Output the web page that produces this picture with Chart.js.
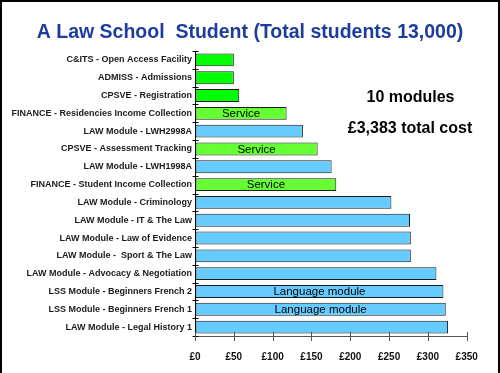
<!DOCTYPE html>
<html>
<head>
<meta charset="utf-8">
<script src="https://cdn.jsdelivr.net/npm/chart.js@4/dist/chart.umd.min.js"></script>
<style>
  html, body { margin: 0; padding: 0; background: #fff; }
  #wrap {
    position: absolute; left: 0; top: 0; width: 500px; height: 373px;
    box-sizing: border-box; border-top: 2px solid #000; border-left: 2px solid #000; border-right: 2px solid #000;
    background: #fff;
  }
  canvas { display: block; }
</style>
</head>
<body>
<div id="wrap"><canvas id="c" width="496" height="371"></canvas></div>
<script>
// ---- data ----
const chartTitle = 'A Law School  Student (Total students 13,000)';
const categories = [
  'C&ITS - Open Access Facility',
  'ADMISS - Admissions',
  'CPSVE - Registration',
  'FINANCE - Residencies Income Collection',
  'LAW Module - LWH2998A',
  'CPSVE - Assessment Tracking',
  'LAW Module - LWH1998A',
  'FINANCE - Student Income Collection',
  'LAW Module - Criminology',
  'LAW Module - IT & The Law',
  'LAW Module - Law of Evidence',
  'LAW Module -  Sport & The Law',
  'LAW Module - Advocacy & Negotiation',
  'LSS Module - Beginners French 2',
  'LSS Module - Beginners French 1',
  'LAW Module - Legal History 1'
];
const costs = [50, 50, 57, 118, 139, 158, 176, 182, 253, 277, 278, 278, 311, 320, 323, 326];
const kinds = ['core', 'core', 'core', 'service', 'module', 'service', 'module', 'service',
               'module', 'module', 'module', 'module', 'module', 'module', 'module', 'module'];
const barNotes = ['', '', '', 'Service', '', 'Service', '', 'Service',
                  '', '', '', '', '', 'Language module', 'Language module', ''];
const xTicks = [0, 50, 100, 150, 200, 250, 300, 350];
const sideNotes = ['10 modules', '£3,383 total cost'];

// ---- styles ----
const kindColors = { core: '#00ff00', service: '#66ff33', module: '#66ccff' };
const FONT = '"Liberation Sans", Arial, sans-serif';

const notesPlugin = {
  id: 'notes',
  afterDatasetsDraw(chart) {
    const ctx = chart.ctx;
    const meta = chart.getDatasetMeta(0);
    ctx.save();
    ctx.fillStyle = '#000';
    ctx.font = '11.5px ' + FONT;
    ctx.textAlign = 'center';
    ctx.textBaseline = 'middle';
    meta.data.forEach((bar, i) => {
      if (barNotes[i]) ctx.fillText(barNotes[i], (bar.base + bar.x) / 2, bar.y + 0.5);
    });
    ctx.restore();
  },
  afterDraw(chart) {
    const ctx = chart.ctx;
    const xs = chart.scales.x, ys = chart.scales.y;
    ctx.save();
    // crossing tick marks on y axis (category boundaries)
    ctx.strokeStyle = '#000';
    ctx.lineWidth = 1;
    const n = categories.length;
    const ax = Math.round(xs.left) + 0.5;
    for (let k = 0; k <= n; k++) {
      const y = Math.round(ys.top + k * ys.height / n) + 0.5;
      ctx.beginPath(); ctx.moveTo(ax - 3, y); ctx.lineTo(ax + 3, y); ctx.stroke();
    }
    // crossing tick marks on x axis
    ctx.strokeStyle = '#555';
    const by = Math.round(ys.bottom);
    xTicks.forEach(v => {
      const x = Math.round(xs.getPixelForValue(v)) + 0.5;
      ctx.beginPath(); ctx.moveTo(x, by - 4); ctx.lineTo(x, by + 5); ctx.stroke();
    });
    // side notes
    ctx.fillStyle = '#000';
    ctx.font = 'bold 16px ' + FONT;
    ctx.textAlign = 'center';
    ctx.textBaseline = 'middle';
    ctx.fillText(sideNotes[0], 408.5, 95.5);
    ctx.fillText(sideNotes[1], 408, 127);
    ctx.restore();
  }
};

new Chart(document.getElementById('c'), {
  type: 'bar',
  data: {
    labels: categories,
    datasets: [{
      data: costs,
      backgroundColor: kinds.map(k => kindColors[k]),
      borderColor: '#1a1a1a',
      borderWidth: 1,
      borderSkipped: false,
      categoryPercentage: 1,
      barPercentage: 0.72
    }]
  },
  options: {
    indexAxis: 'y',
    responsive: false,
    animation: false,
    devicePixelRatio: 1,
    layout: { padding: 0 },
    plugins: {
      legend: { display: false },
      tooltip: { enabled: false },
      title: {
        display: true,
        text: chartTitle,
        color: '#1e3c9e',
        font: { family: FONT, size: 19.5, weight: 'bold' },
        padding: { top: 18.8, bottom: 6.8 }
      }
    },
    scales: {
      x: {
        min: 0, max: 350,
        afterFit(s) { s.height = 37; },
        afterBuildTicks(s) { s.ticks = xTicks.map(v => ({ value: v })); },
        grid: { display: true, drawOnChartArea: false, drawTicks: false },
        border: { display: true, color: '#555', width: 1 },
        ticks: {
          padding: 15,
          color: '#111',
          font: { family: FONT, size: 10, weight: 'bold' },
          callback: v => '£' + v
        }
      },
      y: {
        afterFit(s) { s.width = 193; },
        grid: { display: true, drawOnChartArea: false, drawTicks: false },
        border: { display: true, color: '#000', width: 1 },
        ticks: {
          autoSkip: false,
          padding: 3,
          color: '#1a1a1a',
          font: { family: FONT, size: 9, weight: 'bold' }
        }
      },
      spacer: {
        type: 'category',
        axis: 'y',
        position: 'right',
        labels: [''],
        afterFit(s) { s.width = 31.3; },
        grid: { display: false, drawTicks: false },
        border: { display: false },
        ticks: { display: false }
      }
    }
  },
  plugins: [notesPlugin]
});
</script>
</body>
</html>
